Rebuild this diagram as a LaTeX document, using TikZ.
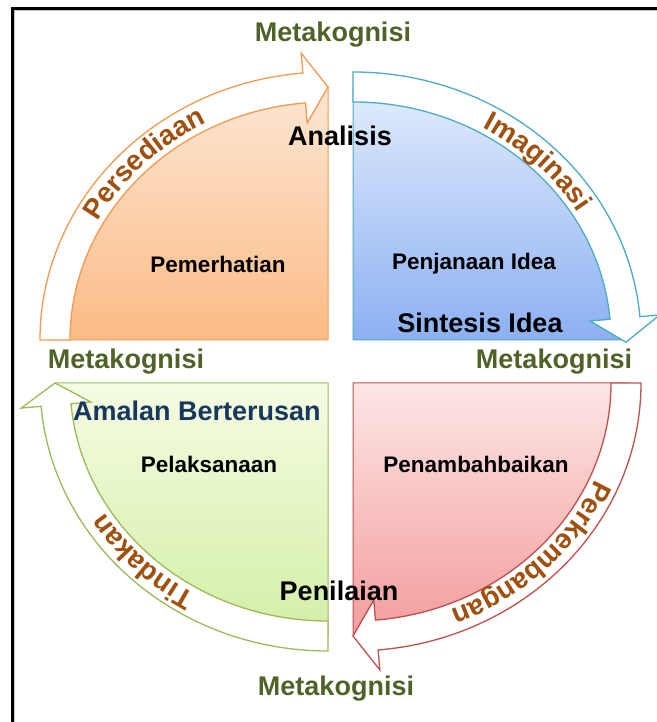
\documentclass[tikz,border=0pt]{standalone}
\usepackage{fontspec}
\setmainfont{Liberation Sans}
\usetikzlibrary{decorations.text}
\definecolor{olivetxt}{HTML}{4F6228}
\definecolor{navytxt}{HTML}{17375E}
\definecolor{labbrown}{HTML}{A0500F}
\definecolor{orLine}{HTML}{F39A50}
\definecolor{orTop}{HTML}{FDE6D3}
\definecolor{orBot}{HTML}{FBBB86}
\definecolor{blLine}{HTML}{4BACC6}
\definecolor{blTop}{HTML}{E2ECFC}
\definecolor{blBot}{HTML}{8CB0F2}
\definecolor{rdLine}{HTML}{C0504D}
\definecolor{rdTop}{HTML}{FDE6E6}
\definecolor{rdBot}{HTML}{F39C9C}
\definecolor{grLine}{HTML}{9BBB59}
\definecolor{grTop}{HTML}{F5FCE2}
\definecolor{grBot}{HTML}{D3EEA6}
\newcommand\bigfont{\fontsize{27}{30}\selectfont\bfseries}
\newcommand\smallfont{\fontsize{22.5}{25}\selectfont\bfseries}
\newcommand\labfont{\fontsize{28}{28}\selectfont\bfseries\color{labbrown}}
\begin{document}
\begin{tikzpicture}[x=1pt,y=1pt,
  pie/.style={line width=1pt},
  band/.style={fill=white,line width=1.3pt,line join=miter},
  meta/.style={font=\bigfont,text=olivetxt,inner sep=0pt},
  bigtxt/.style={font=\bigfont,text=black,inner sep=0pt},
  smalltxt/.style={font=\smallfont,text=black,inner sep=0pt},
  curved/.style={decorate,decoration={text along path,text align=center,text={|\labfont|#1}}}
]
\useasboundingbox (0,0) rectangle (656,722);
% frame
\draw[gray!45,line width=1pt] (14.5,-10) -- (14.5,711.5) -- (700,711.5);
\draw[black,line width=3pt] (12.5,-10) -- (12.5,713.5) -- (700,713.5);

% quadrant fills
\path[pie,draw=orLine,top color=orTop,bottom color=orBot]
  (328,382) -- (55,382) arc[start angle=180,end angle=90,x radius=273,y radius=253] -- cycle;
\path[pie,draw=blLine,top color=blTop,bottom color=blBot]
  (353,382) -- (353,635) arc[start angle=90,end angle=0,x radius=273,y radius=253] -- cycle;
\path[pie,draw=rdLine,top color=rdTop,bottom color=rdBot]
  (353,339) -- (626,339) arc[start angle=0,end angle=-90,x radius=273,y radius=253] -- cycle;
\path[pie,draw=grLine,top color=grTop,bottom color=grBot]
  (328,339) -- (328,86) arc[start angle=-90,end angle=-180,x radius=273,y radius=253] -- cycle;

% orange arrow (180 -> 90)
\draw[band,draw=orLine]
  ({328+288*cos(180)},{382+268*sin(180)}) arc[start angle=180,end angle=95,x radius=288,y radius=268]
  -- ({328+308*cos(95)},{382+288*sin(95)})
  -- ({328+273*cos(90)},{382+253*sin(90)})
  -- ({328+238*cos(95)},{382+218*sin(95)})
  -- ({328+258*cos(95)},{382+238*sin(95)})
  arc[start angle=95,end angle=180,x radius=258,y radius=238] -- cycle;
% blue arrow (90 -> 0)
\draw[band,draw=blLine]
  ({353+288*cos(90)},{382+268*sin(90)}) arc[start angle=90,end angle=5,x radius=288,y radius=268]
  -- ({353+308*cos(5)},{382+288*sin(5)})
  -- ({353+273*cos(-0.5)},{382+253*sin(-0.5)})
  -- ({353+238*cos(5)},{382+218*sin(5)})
  -- ({353+258*cos(5)},{382+238*sin(5)})
  arc[start angle=5,end angle=90,x radius=258,y radius=238] -- cycle;
% red arrow (0 -> -90)
\draw[band,draw=rdLine]
  ({353+288*cos(0)},{339+268*sin(0)}) arc[start angle=0,end angle=-85,x radius=288,y radius=268]
  -- ({353+308*cos(-85)},{339+288*sin(-85)})
  -- ({353+273*cos(-90)},{339+253*sin(-90)})
  -- ({353+238*cos(-85)},{339+218*sin(-85)})
  -- ({353+258*cos(-85)},{339+238*sin(-85)})
  arc[start angle=-85,end angle=0,x radius=258,y radius=238] -- cycle;
% green arrow (-90 -> -180)
\draw[band,draw=grLine]
  ({328+288*cos(-90)},{339+268*sin(-90)}) arc[start angle=-90,end angle=-175,x radius=288,y radius=268]
  -- ({328+308*cos(-175)},{339+288*sin(-175)})
  -- ({328+273*cos(-180)},{339+253*sin(-180)})
  -- ({328+238*cos(-175)},{339+218*sin(-175)})
  -- ({328+258*cos(-175)},{339+238*sin(-175)})
  arc[start angle=-175,end angle=-90,x radius=258,y radius=238] -- cycle;

% curved labels on the arrows
\path[curved=Persediaan] (64,382) arc[start angle=180,end angle=90,x radius=264,y radius=244];
\path[curved=Imaginasi] (353,626) arc[start angle=90,end angle=0,x radius=264,y radius=244];
\path[curved=Perkembangan] (617,339) arc[start angle=0,end angle=-90,x radius=264,y radius=244];
\path[curved=Tindakan] (328,95) arc[start angle=-90,end angle=-180,x radius=264,y radius=244];

% Metakognisi labels
\node[meta] (mtop) at (333,687) {Metakognisi};
\node[meta] (mleft) at (126,360) {Metakognisi};
\node[meta] (mright) at (554,360) {Metakognisi};
\node[meta] (mbot) at (336,33) {Metakognisi};

% inner texts
\node[bigtxt] (analisis) at (340,586) {Analisis};
\node[bigtxt] (sintesis) at (480,399) {Sintesis Idea};
\node[bigtxt,text=navytxt] (amalan) at (197,311) {Amalan Berterusan};
\node[bigtxt] (penilaian) at (339,131) {Penilaian};
\node[smalltxt] (pemerhatian) at (218,458) {Pemerhatian};
\node[smalltxt] (penjanaan) at (474,458) {Penjanaan Idea};
\node[smalltxt] (pelaksanaan) at (209,258) {Pelaksanaan};
\node[smalltxt] (penambah) at (476,258) {Penambahbaikan};
\end{tikzpicture}
\end{document}
